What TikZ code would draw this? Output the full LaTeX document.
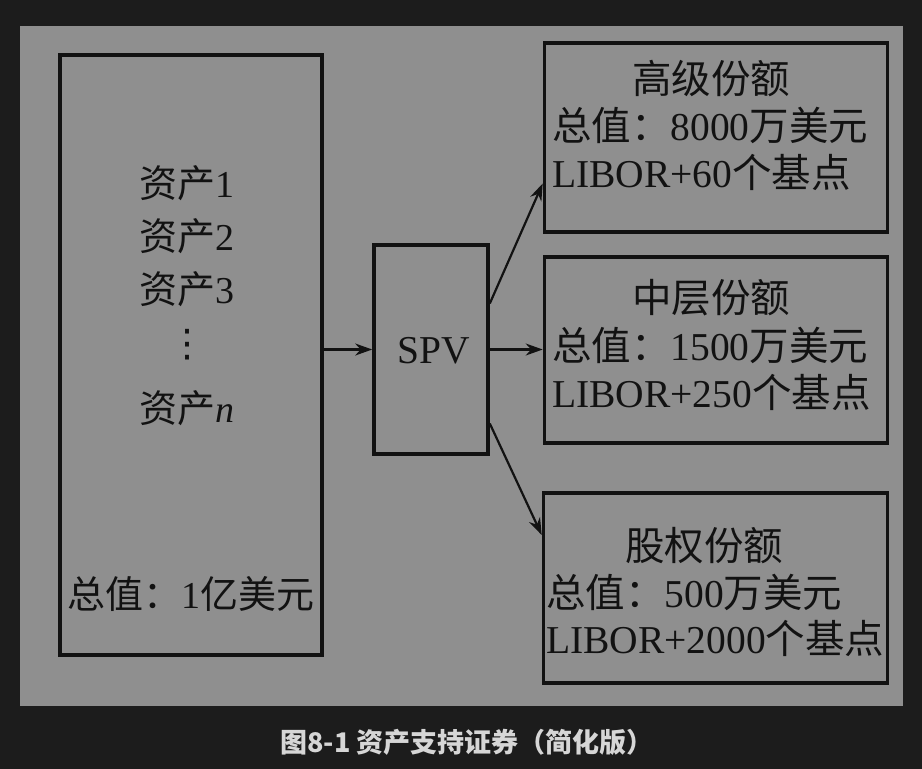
\documentclass[tikz,border=0pt]{standalone}
\usepackage{fontspec}
\setmainfont{Liberation Serif}
\newfontfamily\cjk{Noto Sans CJK SC}
\newfontfamily\symfont{DejaVu Sans}
\usetikzlibrary{arrows.meta}

\definecolor{pagebg}{HTML}{1C1C1C}
\definecolor{panelbg}{HTML}{8F8F8F}
\definecolor{ink}{HTML}{121212}
\definecolor{captionfg}{HTML}{D6D6D6}

\newcommand{\zh}[1]{{\cjk #1}}

\tikzset{
  box/.style={rectangle, draw=ink, line width=3.6pt, inner sep=0pt},
  txt/.style={inner sep=0pt, anchor=base, text=ink, font=\fontsize{39.5}{46}\selectfont},
  pooltxt/.style={txt, font=\fontsize{38}{46}\selectfont},
  link/.style={draw=ink, line width=2.2pt, -{Stealth[length=17pt, width=12pt]}},
}

\begin{document}
\begin{tikzpicture}[x=1pt, y=-1pt]
			% Background and panel
			\fill[pagebg] (0,0) rectangle (922,769);
			\fill[panelbg] (20,26) rectangle (903,706);
			
			% Define boxes
			\node[box, minimum width=262pt, minimum height=600pt] (pool) at (191,355) {};
			\node[box, minimum width=114pt, minimum height=209pt] (spv) at (431,349.5) {};
			\node[box, minimum width=343pt, minimum height=189pt] (senior) at (716,137.5) {};
			\node[box, minimum width=343pt, minimum height=186pt] (mezz) at (716,350) {};
			\node[box, minimum width=344pt, minimum height=190pt] (equity) at (715.5,588) {};
			
			% Asset pool text
			\node[pooltxt] (a1) at (187,197) {\zh{资产}1};
			\node[pooltxt] (a2) at (187,250) {\zh{资产}2};
			\node[pooltxt] (a3) at (187,303) {\zh{资产}3};
			\node[pooltxt, anchor=center] (adots) at (187,345) {\symfont ⋮};
			\node[pooltxt] (an) at (187,422) {\zh{资产}\textit{n}};
			\node[pooltxt] (total) at (191,608) {\zh{总值：}1\zh{亿美元}};
			
			% SPV text
			\node[txt] (spvlabel) at (434,363) {SPV};
			
			% Tranche texts
			\node[txt] (t1) at (711,93) {\zh{高级份额}};
			\node[txt, anchor=base west] (t1v) at (552,140) {\zh{总值：}8000\zh{万美元}};
			\node[txt, anchor=base west] (t1r) at (552,187) {LIBOR+60\zh{个基点}};
			
			\node[txt] (t2) at (711,312) {\zh{中层份额}};
			\node[txt, anchor=base west] (t2v) at (552,360) {\zh{总值：}1500\zh{万美元}};
			\node[txt, anchor=base west] (t2r) at (552,407) {LIBOR+250\zh{个基点}};
			
			\node[txt] (t3) at (704,560) {\zh{股权份额}};
			\node[txt, anchor=base west] (t3v) at (546,607) {\zh{总值：}500\zh{万美元}};
			\node[txt, anchor=base west] (t3r) at (546,653) {LIBOR+2000\zh{个基点}};
			
			% Draw arrows
			\draw[link] (pool.east |- spv.west) -- (spv.west);
			\draw[link] (spv.east) -- (spv.east -| mezz.west);
			\draw[link] ([yshift=46pt]spv.east) -- ([yshift=-46pt]senior.west);
			\draw[link] ([yshift=-74pt]spv.east) -- ([yshift=53pt]equity.west);
			
			% Caption
			\node[inner sep=0pt, text=captionfg, font=\cjk\bfseries\fontsize{27}{30}\selectfont] (caption) at (467,742) {图8-1 资产支持证券（简化版）};
		\end{tikzpicture}
\end{document}
